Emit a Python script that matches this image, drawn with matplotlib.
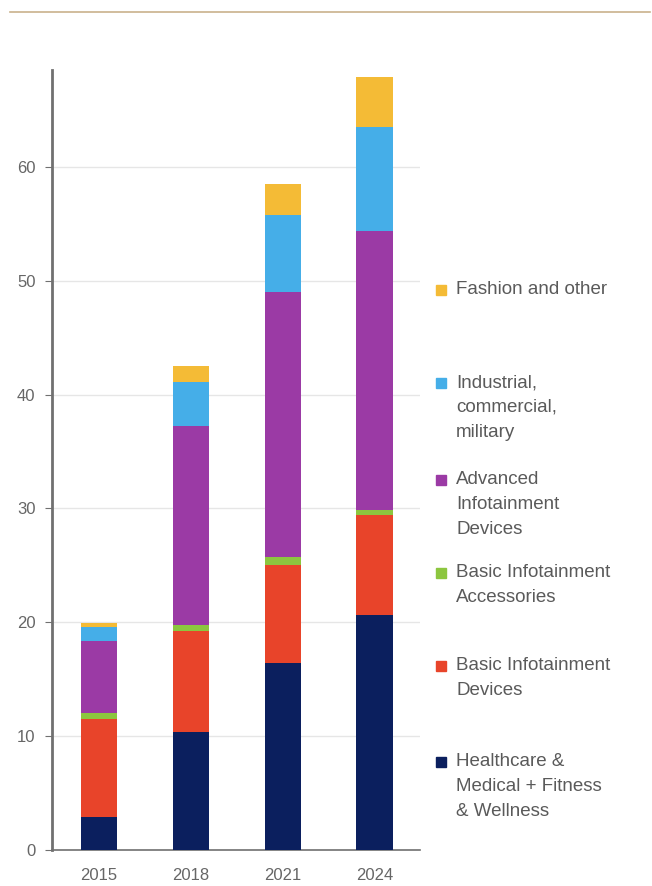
import numpy as np
import matplotlib.pyplot as plt
from matplotlib.lines import Line2D
from matplotlib.patches import Rectangle

plt.rcParams['font.family'] = ['Liberation Sans', 'DejaVu Sans']

years = ['2015', '2018', '2021', '2024']
healthcare = [2.9, 10.4, 16.4, 20.6]
basic_devices = [8.6, 8.8, 8.6, 8.8]
basic_accessories = [0.5, 0.6, 0.7, 0.5]
advanced = [6.4, 17.4, 23.3, 24.5]
industrial = [1.2, 3.9, 6.8, 9.1]
fashion = [0.3, 1.4, 2.7, 4.4]

series = [healthcare, basic_devices, basic_accessories, advanced, industrial, fashion]
colors = ['#0b1f5e', '#e8442a', '#8cc63f', '#9b3aa5', '#45aee8', '#f4bb36']
labels = ['Healthcare &\nMedical + Fitness\n& Wellness',
          'Basic Infotainment\nDevices',
          'Basic Infotainment\nAccessories',
          'Advanced\nInfotainment\nDevices',
          'Industrial,\ncommercial,\nmilitary',
          'Fashion and other']

fig = plt.figure(figsize=(6.52, 8.86), dpi=100)
ax = fig.add_axes([0.08, 0.0406, 0.564, 0.8804])

x = np.arange(len(years))
bottom = np.zeros(len(years))
for vals, c in zip(series, colors):
    ax.bar(x, vals, width=0.4, bottom=bottom, color=c, zorder=3)
    bottom += np.array(vals)

ax.set_xlim(-0.51, 3.49)
ax.set_ylim(0, 68.5)
ax.set_yticks([0, 10, 20, 30, 40, 50, 60])
ax.set_xticks(x)
ax.set_xticklabels(years)
ax.grid(axis='y', color='#e6e6e6', linewidth=1, zorder=0)
for s in ['top', 'right']:
    ax.spines[s].set_visible(False)
ax.spines['left'].set_color('#707070')
ax.spines['left'].set_linewidth(2)
ax.spines['bottom'].set_color('#707070')
ax.spines['bottom'].set_linewidth(1.2)
ax.tick_params(axis='y', length=5, color='#707070', labelsize=12, labelcolor='#666666', pad=7)
ax.tick_params(axis='x', length=0, labelsize=12, labelcolor='#666666', pad=13)

# top rule
fig.add_artist(Line2D([0.015, 0.997], [0.9865, 0.9865], color='#c9b28c', linewidth=1.2))

# legend
leg_y = [762, 666, 573, 480, 383, 290]
for lab, c, py in zip(labels, colors, leg_y):
    yf = 1 - py / 886
    fig.add_artist(Rectangle((436 / 652, yf - 5 / 886), 10 / 652, 10 / 886, color=c,
                             transform=fig.transFigure))
    fig.text(456 / 652, yf + 9 / 886, lab, ha='left', va='top', fontsize=13.5,
             color='#5a5a5a', linespacing=1.6)

fig.savefig('out.png', dpi=100)
